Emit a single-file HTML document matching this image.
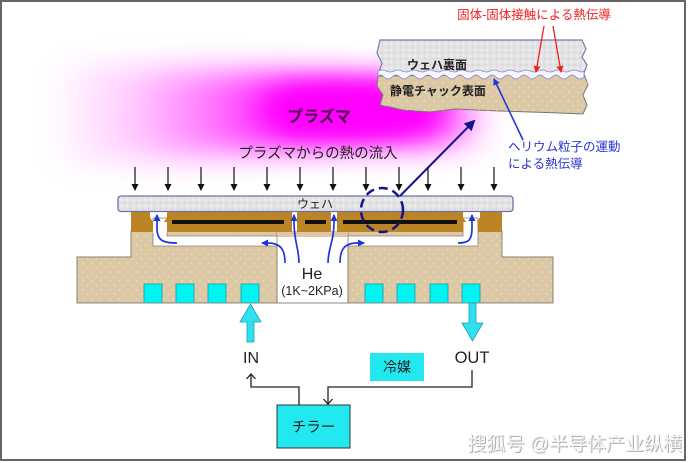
<!DOCTYPE html>
<html><head><meta charset="utf-8"><style>
html,body{margin:0;padding:0;background:#fff;}
body{width:690px;height:463px;overflow:hidden;}
svg{display:block;}
text{font-family:"Liberation Sans","Noto Sans CJK JP",sans-serif;}
</style></head><body>
<svg width="690" height="463" viewBox="0 0 690 463" xmlns="http://www.w3.org/2000/svg">
<defs>
<filter id="b1" x="-30%" y="-60%" width="160%" height="220%"><feGaussianBlur stdDeviation="15"/></filter>
<filter id="b2" x="-60%" y="-100%" width="220%" height="300%"><feGaussianBlur stdDeviation="12"/></filter>
<linearGradient id="pg" x1="0" x2="1" y1="0" y2="0">
<stop offset="0" stop-color="#ff00ff" stop-opacity="0"/>
<stop offset="0.2" stop-color="#ff00ff" stop-opacity="0.22"/>
<stop offset="0.4" stop-color="#ff00ff" stop-opacity="0.6"/>
<stop offset="0.55" stop-color="#ff00ff" stop-opacity="1"/>
<stop offset="0.86" stop-color="#ff00ff" stop-opacity="1"/>
<stop offset="1" stop-color="#ff00ff" stop-opacity="0"/>
</linearGradient>
<pattern id="dots" width="9" height="9" patternUnits="userSpaceOnUse"><circle cx="2" cy="2" r="0.8" fill="#fff" opacity="0.55"/><circle cx="6.5" cy="6.5" r="0.7" fill="#fff" opacity="0.4"/></pattern>
<pattern id="gdots" width="6" height="6" patternUnits="userSpaceOnUse"><rect width="6" height="6" fill="#e3e3e3"/><circle cx="1.5" cy="2" r="0.9" fill="#fafafa"/><circle cx="4.5" cy="4.5" r="0.8" fill="#cfcfcf"/></pattern>
<marker id="ab" markerWidth="8" markerHeight="8" refX="6" refY="4" orient="auto" markerUnits="userSpaceOnUse"><path d="M0,0.5 L7,4 L0,7.5 Z" fill="#2236d8"/></marker>
<marker id="ak" markerWidth="8" markerHeight="8" refX="6" refY="4" orient="auto" markerUnits="userSpaceOnUse"><path d="M0,0.5 L7,4 L0,7.5 Z" fill="#111"/></marker>
<marker id="ar" markerWidth="8" markerHeight="8" refX="6" refY="4" orient="auto" markerUnits="userSpaceOnUse"><path d="M0,0.5 L7,4 L0,7.5 Z" fill="#ee2222"/></marker>
<marker id="an" markerWidth="12" markerHeight="12" refX="9" refY="6" orient="auto" markerUnits="userSpaceOnUse"><path d="M0,0.5 L11,6 L0,11.5 Z" fill="#14148a"/></marker>
<marker id="ao" markerWidth="10" markerHeight="10" refX="5" refY="5" orient="auto" markerUnits="userSpaceOnUse"><path d="M0,0.5 L5,5 L0,9.5" fill="none" stroke="#222" stroke-width="1.3"/></marker>
</defs>

<!-- frame -->
<rect x="1" y="1" width="684" height="459" fill="#fff" stroke="#666" stroke-width="2"/>

<!-- plasma -->
<path d="M50,64 L300,74 L490,80 L490,143 L300,148 L50,165 Z" fill="url(#pg)" filter="url(#b1)"/>
<ellipse cx="350" cy="110" rx="85" ry="25" fill="#ff00ff" filter="url(#b2)"/>
<text x="319" y="122" font-size="16" font-weight="bold" fill="#4a0048" text-anchor="middle">プラズマ</text>
<text x="318" y="158" font-size="14.5" fill="#222" text-anchor="middle">プラズマからの熱の流入</text>

<!-- inset: wafer back / ESC surface -->
<path d="M380,40 L582,40 L586,49 L582,57 L587,65 L584,73 L378,75 L382,63 L377,53 Z" fill="url(#gdots)" stroke="#7a7ab0" stroke-width="1.2"/>
<path d="M378,76 L584,74 L588,85 L583,95 L587,105 L583,114 L560,113 L530,112 L500,111 L477,110 L455,109 L430,112 L403,110 L390,107 L380,105 L383,95 L377,86 Z" fill="#dcc8a4" stroke="#777" stroke-width="1"/>
<path d="M378,76 L584,74 L588,85 L583,95 L587,105 L583,114 L560,113 L530,112 L500,111 L477,110 L455,109 L430,112 L403,110 L390,107 L380,105 L383,95 L377,86 Z" fill="url(#dots)"/>
<path d="M378,71 q4,-2 8,0 q4,2 8,0 q4,-2 8,0 q4,2 8,0 q4,-2 8,0 q4,2 8,0 q4,-2 8,0 q4,2 8,0 q4,-2 8,0 q4,2 8,0 q4,-2 8,0 q4,2 8,0 q4,-2 8,0 q4,2 8,0 q4,-2 8,0 q4,2 8,0 q4,-2 8,0 q4,2 8,0 q4,-2 8,0 q4,2 8,0 q4,-2 8,0 q4,2 8,0 q4,-2 8,0 q4,2 8,0 q4,-2 8,0 q4,2 6,0 L584,77 q-4,4 -8,0 q-4,-4 -8,0 q-4,4 -8,0 q-4,-4 -8,0 q-4,4 -8,0 q-4,-4 -8,0 q-4,4 -8,0 q-4,-4 -8,0 q-4,4 -8,0 q-4,-4 -8,0 q-4,4 -8,0 q-4,-4 -8,0 q-4,4 -8,0 q-4,-4 -8,0 q-4,4 -8,0 q-4,-4 -8,0 q-4,4 -8,0 q-4,-4 -8,0 q-4,4 -8,0 q-4,-4 -8,0 q-4,4 -8,0 q-4,-4 -8,0 q-4,4 -8,0 q-4,-4 -8,0 q-4,4 -8,0 q-4,-4 -6,0 Z" fill="#f6f6ff" stroke="#8a8ad0" stroke-width="0.8"/>
<text x="437" y="69" font-size="12" font-weight="bold" fill="#222" text-anchor="middle">ウェハ裏面</text>
<text x="438" y="95" font-size="12" font-weight="bold" fill="#222" text-anchor="middle">静電チャック表面</text>

<text x="534" y="19" font-size="12.5" fill="#ee2222" text-anchor="middle">固体‐固体接触による熱伝導</text>
<line x1="544" y1="26" x2="536" y2="72" stroke="#ee2222" stroke-width="1.3" marker-end="url(#ar)"/>
<line x1="553" y1="26" x2="561" y2="72" stroke="#ee2222" stroke-width="1.3" marker-end="url(#ar)"/>

<text x="508" y="151" font-size="12.5" fill="#2a35d0">ヘリウム粒子の運動</text>
<text x="508" y="168" font-size="12.5" fill="#2a35d0">による熱伝導</text>
<line x1="523" y1="140" x2="494" y2="79" stroke="#2236d8" stroke-width="1.6" marker-end="url(#ab)"/>

<!-- heat arrows -->
<g stroke="#111" stroke-width="1.2" marker-end="url(#ak)">
<line x1="135" y1="167" x2="135" y2="190"/>
<line x1="168" y1="167" x2="168" y2="190"/>
<line x1="201" y1="167" x2="201" y2="190"/>
<line x1="234" y1="167" x2="234" y2="190"/>
<line x1="267" y1="167" x2="267" y2="190"/>
<line x1="300" y1="167" x2="300" y2="190"/>
<line x1="333" y1="167" x2="333" y2="190"/>
<line x1="366" y1="167" x2="366" y2="190"/>
<line x1="399" y1="167" x2="399" y2="190"/>
<line x1="428" y1="167" x2="428" y2="190"/>
<line x1="461" y1="167" x2="461" y2="190"/>
<line x1="494" y1="167" x2="494" y2="190"/>
</g>

<!-- chuck tan body -->
<path d="M131,231 L277,231 L277,303 L77,303 L77,257 L131,257 Z" fill="#dcc8a4" stroke="#8a8070" stroke-width="1"/>
<path d="M348,231 L502,231 L502,257 L553,257 L553,303 L348,303 Z" fill="#dcc8a4" stroke="#8a8070" stroke-width="1"/>
<rect x="277" y="231" width="71" height="6" fill="#dcc8a4"/>
<path d="M131,231 L277,231 L277,303 L77,303 L77,257 L131,257 Z" fill="url(#dots)"/>
<path d="M348,231 L502,231 L502,257 L553,257 L553,303 L348,303 Z" fill="url(#dots)"/>

<!-- gap -->
<rect x="277" y="237" width="71" height="66" fill="#fff"/>
<line x1="277" y1="246" x2="277" y2="303" stroke="#8a8070" stroke-width="1"/>
<line x1="348" y1="246" x2="348" y2="303" stroke="#8a8070" stroke-width="1"/>

<!-- horizontal + vertical channels -->
<path d="M153,218 L167,218 L167,236 L277,236 L277,246 L153,246 Z" fill="#fff" stroke="#8a8070" stroke-width="0.8"/>
<path d="M463,218 L478,218 L478,246 L348,246 L348,236 L463,236 Z" fill="#fff" stroke="#8a8070" stroke-width="0.8"/>

<!-- brown dielectric with pockets and slits cut out -->
<path fill="#bb8425" fill-rule="evenodd" d="
M131,210 L292,210 L292,232 L131,232 Z
M150,210 L167,210 L167,217 Q164,224 158.5,224 Q153,224 150,217 Z"/>
<path fill="#bb8425" d="M297,210 L331,210 L331,232 L297,232 Z"/>
<path fill="#bb8425" fill-rule="evenodd" d="
M337,210 L502,210 L502,232 L337,232 Z
M463,210 L480,210 L480,217 Q477,224 471.5,224 Q466,224 463,217 Z"/>
<rect x="153" y="222" width="14" height="11" fill="#fff"/>
<rect x="463.5" y="222" width="14" height="11" fill="#fff"/>

<!-- electrodes -->
<rect x="172" y="220" width="112" height="4" fill="#111"/>
<rect x="305" y="220" width="21" height="4" fill="#111"/>
<rect x="343" y="220" width="114" height="4" fill="#111"/>

<!-- wafer -->
<rect x="118" y="196" width="395" height="15.5" rx="3" fill="#e3e3e3" stroke="#7070b0" stroke-width="1.3"/>
<rect x="119" y="197" width="393" height="13.5" rx="2" fill="url(#gdots)"/>
<text x="315" y="208" font-size="12" fill="#222" text-anchor="middle">ウェハ</text>

<!-- blue He arrows -->
<g fill="none" stroke="#2236d8" stroke-width="1.7" marker-end="url(#ab)">
<path d="M285,263 C285,250 281,243 268,243 L262,243"/>
<path d="M299,263 C299,248 294,242 294,222 L294,215"/>
<path d="M328,263 C328,248 334,242 334,222 L334,215"/>
<path d="M340,263 C340,250 344,243 357,243 L364,243"/>
<path d="M177,243 C162,243 157,240 157,228 L157,215"/>
<path d="M458,243 C469,243 472,240 472,228 L472,215"/>
</g>

<!-- dashed circle and big arrow -->
<ellipse cx="382" cy="210" rx="21" ry="22" fill="none" stroke="#14148a" stroke-width="2.5" stroke-dasharray="9,5"/>
<line x1="400" y1="196" x2="474" y2="121" stroke="#14148a" stroke-width="2" marker-end="url(#an)"/>

<!-- He label -->
<text x="312" y="279" font-size="16" fill="#222" text-anchor="middle">He</text>
<text x="312" y="295" font-size="12.5" fill="#222" text-anchor="middle">(1K~2KPa)</text>

<!-- cyan coolant squares -->
<g fill="#00f4f4" stroke="#1a9aa0" stroke-width="0.8">
<rect x="144" y="284" width="18" height="19"/>
<rect x="176" y="284" width="18" height="19"/>
<rect x="208" y="284" width="18" height="19"/>
<rect x="241" y="284" width="18" height="19"/>
<rect x="365" y="284" width="18" height="19"/>
<rect x="397" y="284" width="18" height="19"/>
<rect x="430" y="284" width="18" height="19"/>
<rect x="462" y="284" width="18" height="19"/>
</g>
<line x1="77" y1="303" x2="553" y2="303" stroke="#888" stroke-width="1"/>

<!-- IN/OUT arrows -->
<path d="M247,342 L254,342 L254,322 L261,322 L250.5,304 L240,322 L247,322 Z" fill="#30e0f0" stroke="#1aa0b0" stroke-width="0.8"/>
<path d="M469,303 L476,303 L476,323 L483,323 L472.5,341 L462,323 L469,323 Z" fill="#30e0f0" stroke="#1aa0b0" stroke-width="0.8"/>
<text x="251" y="363" font-size="16" fill="#222" text-anchor="middle">IN</text>
<text x="472" y="363" font-size="16.5" fill="#222" text-anchor="middle">OUT</text>

<rect x="370" y="353" width="54" height="28" fill="#22e8f0"/>
<text x="397" y="372" font-size="14" fill="#222" text-anchor="middle">冷媒</text>

<rect x="277" y="405" width="73" height="43" fill="#22e8f0" stroke="#333" stroke-width="1"/>
<text x="313.5" y="432" font-size="14.5" fill="#222" text-anchor="middle">チラー</text>

<g fill="none" stroke="#222" stroke-width="1.3">
<path d="M299,405 L299,387 L251,387 L251,374" marker-end="url(#ao)"/>
<path d="M472,370 L472,387 L328,387 L328,404" marker-end="url(#ao)"/>
</g>

<!-- watermark -->
<text x="683" y="451" font-size="19" fill="#9a9a9a" text-anchor="end" opacity="0.8">搜狐号 @半导体产业纵横</text>
<text x="682" y="450" font-size="19" fill="#f4f4f4" text-anchor="end">搜狐号 @半导体产业纵横</text>
</svg>
</body></html>
